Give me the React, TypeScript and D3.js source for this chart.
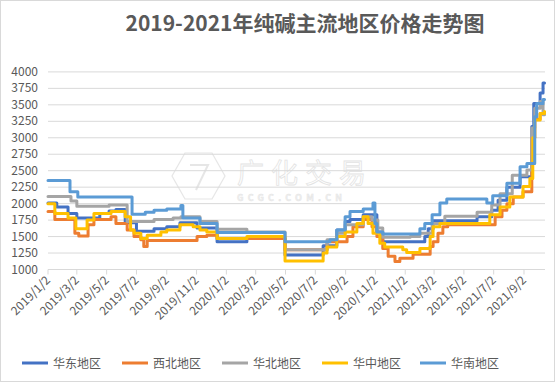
import React from "react";
import * as d3 from "d3";

const xTickLabels = [
  "2019/1/2", "2019/3/2", "2019/5/2", "2019/7/2", "2019/9/2", "2019/11/2",
  "2020/1/2", "2020/3/2", "2020/5/2", "2020/7/2", "2020/9/2", "2020/11/2",
  "2021/1/2", "2021/3/2", "2021/5/2", "2021/7/2", "2021/9/2",
];
const yTicks = [1000, 1250, 1500, 1750, 2000, 2250, 2500, 2750, 3000, 3250, 3500, 3750, 4000];
const seriesNames = ["华东地区", "西北地区", "华北地区", "华中地区", "华南地区"];
const seriesColors = ["#4472C4", "#ED7D31", "#A5A5A5", "#FFC000", "#5B9BD5"];

const huadong: [string, number][] = [
  ["2019-01-02", 2010], ["2019-01-20", 1950], ["2019-02-12", 1850], ["2019-03-02", 1780],
  ["2019-04-18", 1850], ["2019-05-07", 1890], ["2019-05-21", 1910], ["2019-06-09", 1710],
  ["2019-07-02", 1580], ["2019-08-07", 1620], ["2019-09-02", 1650], ["2019-09-29", 1710],
  ["2019-11-03", 1630], ["2019-12-14", 1420], ["2020-02-13", 1470], ["2020-05-01", 1220],
  ["2020-07-18", 1360], ["2020-08-15", 1600], ["2020-09-01", 1730], ["2020-09-11", 1760],
  ["2020-10-08", 1830], ["2020-11-05", 1570], ["2020-11-17", 1420], ["2021-02-11", 1500],
  ["2021-02-18", 1620], ["2021-02-28", 1740], ["2021-05-29", 1800], ["2021-06-28", 1900],
  ["2021-07-11", 2050], ["2021-07-29", 2250], ["2021-08-25", 2410], ["2021-09-18", 3170],
  ["2021-09-22", 3520], ["2021-10-05", 3680], ["2021-10-11", 3830], ["2021-10-14", 3830],
];
const xibei: [string, number][] = [
  ["2019-01-02", 1880], ["2019-01-16", 1760], ["2019-02-26", 1550], ["2019-03-06", 1510],
  ["2019-03-25", 1680], ["2019-04-06", 1760], ["2019-05-11", 1800], ["2019-05-21", 1700],
  ["2019-06-13", 1600], ["2019-06-27", 1500], ["2019-07-11", 1450], ["2019-07-17", 1350],
  ["2019-07-24", 1440], ["2019-11-03", 1500], ["2019-11-23", 1520], ["2019-12-14", 1470],
  ["2020-05-01", 1300], ["2020-07-26", 1420], ["2020-09-05", 1500], ["2020-09-17", 1650],
  ["2020-10-08", 1760], ["2020-10-26", 1650], ["2020-11-05", 1500], ["2020-11-17", 1320],
  ["2020-11-28", 1200], ["2020-12-12", 1120], ["2020-12-22", 1170], ["2021-01-18", 1230],
  ["2021-02-22", 1350], ["2021-02-28", 1420], ["2021-03-10", 1550], ["2021-03-20", 1650],
  ["2021-03-30", 1680], ["2021-07-05", 1800], ["2021-07-19", 1900], ["2021-07-29", 2000],
  ["2021-08-11", 2100], ["2021-08-31", 2180], ["2021-09-18", 3000], ["2021-09-24", 3280],
  ["2021-10-05", 3370], ["2021-10-14", 3370],
];
const huabei: [string, number][] = [
  ["2019-01-02", 2110], ["2019-02-18", 2040], ["2019-03-02", 1960], ["2019-05-07", 1980],
  ["2019-06-13", 1730], ["2019-08-07", 1760], ["2019-09-15", 1780], ["2019-10-01", 1800],
  ["2019-11-09", 1730], ["2019-12-14", 1610], ["2020-02-13", 1570], ["2020-05-01", 1300],
  ["2020-07-26", 1450], ["2020-08-15", 1550], ["2020-09-01", 1680], ["2020-10-08", 1800],
  ["2020-10-26", 1750], ["2020-11-07", 1630], ["2020-11-17", 1490], ["2021-01-12", 1500],
  ["2021-02-01", 1550], ["2021-02-26", 1700], ["2021-03-24", 1810], ["2021-05-29", 1870],
  ["2021-06-28", 1980], ["2021-07-15", 2150], ["2021-08-09", 2430], ["2021-09-08", 2510],
  ["2021-09-18", 3150], ["2021-09-24", 3450], ["2021-10-05", 3550], ["2021-10-11", 3350],
  ["2021-10-14", 3350],
];
const huazhong: [string, number][] = [
  ["2019-01-02", 2000], ["2019-01-16", 1850], ["2019-02-12", 1780], ["2019-02-28", 1620],
  ["2019-03-23", 1750], ["2019-04-06", 1850], ["2019-05-11", 1880], ["2019-06-09", 1800],
  ["2019-06-20", 1600], ["2019-06-27", 1550], ["2019-07-11", 1470], ["2019-07-24", 1520],
  ["2019-08-21", 1570], ["2019-09-02", 1600], ["2019-09-29", 1680], ["2019-10-26", 1650],
  ["2019-11-09", 1600], ["2019-11-23", 1570], ["2019-12-14", 1470], ["2020-02-13", 1500],
  ["2020-05-01", 1130], ["2020-07-18", 1250], ["2020-07-26", 1340], ["2020-08-15", 1500],
  ["2020-09-01", 1570], ["2020-09-25", 1700], ["2020-10-08", 1800], ["2020-10-18", 1700],
  ["2020-10-28", 1550], ["2020-11-11", 1400], ["2020-11-21", 1340], ["2020-12-28", 1300],
  ["2021-01-05", 1260], ["2021-02-01", 1320], ["2021-02-22", 1500], ["2021-02-28", 1650],
  ["2021-03-14", 1700], ["2021-06-24", 1830], ["2021-07-15", 1950], ["2021-08-04", 2100],
  ["2021-08-31", 2260], ["2021-09-14", 2380], ["2021-09-20", 3000], ["2021-09-24", 3270],
  ["2021-10-05", 3370], ["2021-10-14", 3400],
];
const huanan: [string, number][] = [
  ["2019-01-02", 2350], ["2019-02-16", 2180], ["2019-03-04", 2100], ["2019-06-23", 1840],
  ["2019-07-20", 1870], ["2019-08-07", 1900], ["2019-09-02", 1920], ["2019-10-01", 1970],
  ["2019-10-05", 1780], ["2019-11-09", 1700], ["2019-12-14", 1560], ["2020-05-01", 1420],
  ["2020-08-01", 1450], ["2020-08-15", 1600], ["2020-09-01", 1800], ["2020-09-11", 1880],
  ["2020-10-08", 1920], ["2020-10-28", 2010], ["2020-11-01", 1700], ["2020-11-05", 1570],
  ["2020-11-17", 1540], ["2021-02-01", 1620], ["2021-02-11", 1700], ["2021-02-26", 1830],
  ["2021-03-14", 2010], ["2021-03-28", 2070], ["2021-06-18", 2010], ["2021-06-30", 2120],
  ["2021-07-29", 2310], ["2021-08-25", 2560], ["2021-09-08", 2610], ["2021-09-24", 3320],
  ["2021-09-28", 3520], ["2021-10-11", 3580], ["2021-10-14", 3580],
];

const allSeries = [huadong, xibei, huabei, huazhong, huanan];

const W = 555;
const H = 382;
const FONT = "'Noto Sans CJK SC', 'Noto Sans', sans-serif";

export default function App() {
  const parse = d3.timeParse("%Y-%m-%d");
  const parseTick = d3.timeParse("%Y/%m/%d");
  const x = d3
    .scaleTime()
    .domain([parse("2019-01-02") as Date, parse("2021-10-15") as Date])
    .range([48, 545]);
  const y = d3.scaleLinear().domain([1000, 4000]).range([269.5, 71.9]);
  const line = d3
    .line<[string, number]>()
    .x((d) => x(parse(d[0]) as Date))
    .y((d) => y(d[1]))
    .curve(d3.curveStepAfter);

  const legendX = [22, 122, 222, 322, 420];

  return (
    <svg
      width={W}
      height={H}
      style={{ position: "absolute", left: 0, top: 0, background: "#fff" }}
      fontFamily={FONT}
    >
      <rect x={0.5} y={0.5} width={W - 1} height={H - 1} fill="#fff" stroke="#D9D9D9" />
      <text x={305} y={31} textAnchor="middle" fontSize={21} fontWeight="bold" fill="#595959">
        2019-2021年纯碱主流地区价格走势图
      </text>

      {/* watermark */}
      <g opacity={0.5}>
        <path
          d="M172,176 L185,153 L212,153 L225,176 L212,199 L185,199 Z"
          fill="none"
          stroke="#CFCFCF"
          strokeWidth={1.2}
        />
        <path d="M190,165 L208,165 L196,190" fill="none" stroke="#CFCFCF" strokeWidth={2} />
        <text x={237} y={183} fontSize={27} letterSpacing={7} fill="#fff" stroke="#C8C8C8" strokeWidth={0.8}>
          广化交易
        </text>
        <text x={237} y={201} fontSize={9} fontWeight="bold" letterSpacing={4.2} fill="#E0E0E0" stroke="#C8C8C8" strokeWidth={0.4}>
          GCGC.COM.CN
        </text>
      </g>

      {yTicks.map((t) => (
        <g key={t}>
          <line x1={48} x2={545} y1={y(t)} y2={y(t)} stroke="#D9D9D9" strokeWidth={1} />
          <text x={38} y={y(t) + 4} textAnchor="end" fontSize={12} fill="#595959">
            {t}
          </text>
        </g>
      ))}
      {xTickLabels.map((lab) => {
        const xp = x(parseTick(lab) as Date);
        return (
          <g key={lab}>
            <line x1={xp} x2={xp} y1={269.5} y2={274.5} stroke="#D9D9D9" />
            <text
              transform={`translate(${xp + 3},${281}) rotate(-45)`}
              textAnchor="end"
              fontSize={12}
              fill="#595959"
            >
              {lab}
            </text>
          </g>
        );
      })}

      {allSeries.map((s, i) => (
        <path
          key={i}
          d={line(s) || ""}
          fill="none"
          stroke={seriesColors[i]}
          strokeWidth={3}
          strokeLinejoin="round"
          strokeLinecap="round"
        />
      ))}

      {seriesNames.map((n, i) => (
        <g key={n}>
          <line x1={legendX[i]} x2={legendX[i] + 26} y1={363} y2={363} stroke={seriesColors[i]} strokeWidth={3} />
          <text x={legendX[i] + 31} y={367.5} fontSize={12} fill="#595959">
            {n}
          </text>
        </g>
      ))}
    </svg>
  );
}
